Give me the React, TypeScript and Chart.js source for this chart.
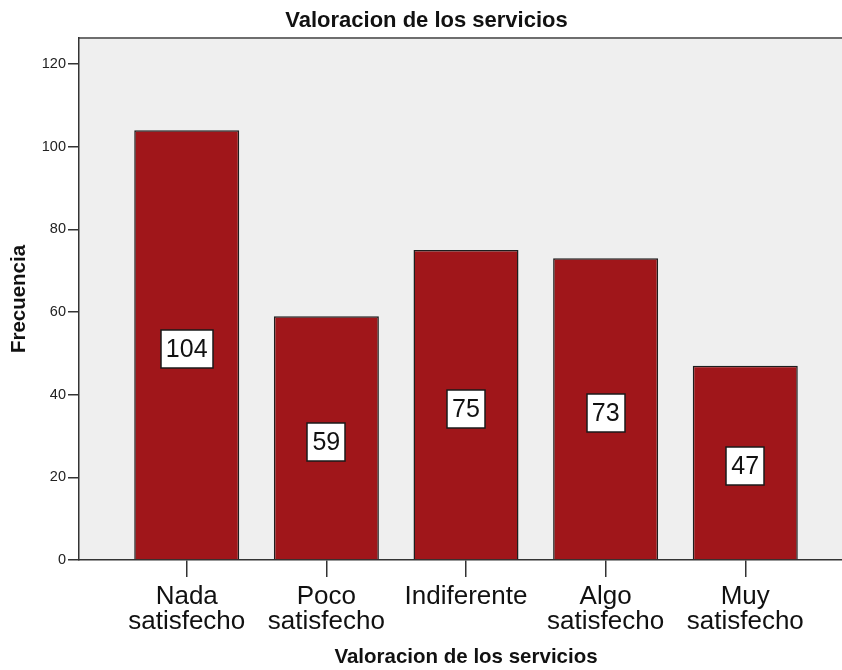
import React, { useEffect, useRef } from "react";
import { Chart, registerables } from "chart.js";

Chart.register(...registerables);

const chartTitle = "Valoracion de los servicios";
const xAxisTitle = "Valoracion de los servicios";
const yAxisTitle = "Frecuencia";
const categories: string[][] = [
  ["Nada", "satisfecho"],
  ["Poco", "satisfecho"],
  ["Indiferente"],
  ["Algo", "satisfecho"],
  ["Muy", "satisfecho"],
];
const frequencies: number[] = [104, 59, 75, 73, 47];
const yTicks: number[] = [0, 20, 40, 60, 80, 100, 120];

const FONT = "'Liberation Sans', Arial, sans-serif";

const plotBg = {
  id: "plotBg",
  beforeDraw(chart: any) {
    const { ctx, chartArea } = chart;
    ctx.save();
    ctx.fillStyle = "#efefef";
    ctx.fillRect(chartArea.left, chartArea.top, chartArea.right - chartArea.left, chartArea.bottom - chartArea.top);
    ctx.strokeStyle = "#6e6e6e";
    ctx.lineWidth = 2;
    ctx.beginPath();
    ctx.moveTo(chartArea.left, chartArea.top);
    ctx.lineTo(chartArea.right + 5, chartArea.top);
    ctx.stroke();
    ctx.restore();
  },
};

const valueBoxes = {
  id: "valueBoxes",
  afterDatasetsDraw(chart: any) {
    const { ctx } = chart;
    const meta = chart.getDatasetMeta(0);
    ctx.save();
    ctx.font = `25px ${FONT}`;
    ctx.textAlign = "center";
    ctx.textBaseline = "middle";
    meta.data.forEach((bar: any, i: number) => {
      const text = String(frequencies[i]);
      const w = ctx.measureText(text).width + 10;
      const h = 38;
      const cx = bar.x;
      const cy = (bar.y + bar.base) / 2 + 4;
      ctx.fillStyle = "#ffffff";
      ctx.fillRect(Math.round(cx - w / 2), Math.round(cy - h / 2), Math.round(w), h);
      ctx.strokeStyle = "#1a1a1a";
      ctx.lineWidth = 1.5;
      ctx.strokeRect(Math.round(cx - w / 2), Math.round(cy - h / 2), Math.round(w), h);
      ctx.fillStyle = "#111111";
      ctx.fillText(text, cx, cy + 1);
    });
    ctx.restore();
  },
};

export default function App() {
  const ref = useRef<HTMLCanvasElement | null>(null);

  useEffect(() => {
    if (!ref.current) return;
    const chart = new Chart(ref.current, {
      type: "bar",
      data: {
        datasets: [
          {
            data: frequencies.map((v, i) => ({ x: i, y: v })),
            backgroundColor: "#a0161a",
            borderColor: "#1e1e1e",
            borderWidth: 1.5,
            barPercentage: 0.752,
            categoryPercentage: 1,
          },
        ],
      },
      options: {
        responsive: false,
        animation: false,
        layout: { padding: { left: 0, right: 3, top: 0, bottom: 0 } },
        plugins: {
          legend: { display: false },
          tooltip: { enabled: false },
          title: {
            display: true,
            text: chartTitle,
            color: "#111",
            font: { family: FONT, size: 22, weight: "bold", lineHeight: 1.2 },
            padding: { top: 8, bottom: 3.6 },
          },
        },
        scales: {
          x: {
            type: "linear",
            offset: false,
            min: -0.7715,
            max: 4.7715,
            afterBuildTicks: (scale: any) => {
              scale.ticks = categories.map((_, i) => ({ value: i }));
            },
            afterFit: (scale: any) => {
              scale.height = 110;
            },
            ticks: {
              includeBounds: false,
              autoSkip: false,
              maxRotation: 0,
              color: "#111",
              padding: 7,
              font: { family: FONT, size: 26, lineHeight: "25px" },
              callback: (v: any) => categories[Number(v)] ?? "",
            },
            grid: { offset: false, drawOnChartArea: false, drawTicks: true, tickLength: 17, color: "#333", lineWidth: 1.5 },
            border: { display: true, color: "#333", width: 1.5 },
            title: {
              display: true,
              text: xAxisTitle,
              color: "#111",
              font: { family: FONT, size: 20.5, weight: "bold", lineHeight: 1.2 },
              padding: { top: 0, bottom: 0 },
            },
          },
          y: {
            min: 0,
            max: 126.3,
            afterBuildTicks: (scale: any) => {
              scale.ticks = yTicks.map((v) => ({ value: v }));
            },
            afterFit: (scale: any) => {
              scale.width = 79;
            },
            ticks: {
              color: "#222",
              padding: 2,
              font: { family: FONT, size: 14.5 },
            },
            grid: { drawOnChartArea: false, drawTicks: true, tickLength: 11, color: "#333", lineWidth: 1.5 },
            border: { display: true, color: "#333", width: 1.5 },
            title: {
              display: true,
              text: yAxisTitle,
              color: "#111",
              font: { family: FONT, size: 20.5, weight: "bold", lineHeight: 1.2 },
              padding: { top: 6.7, bottom: 0 },
            },
          },
        },
      },
      plugins: [plotBg, valueBoxes],
    } as any);
    return () => chart.destroy();
  }, []);

  return (
    <div
      style={{
        position: "fixed",
        left: 0,
        top: 0,
        width: 842,
        height: 670,
        overflow: "hidden",
        background: "#ffffff",
      }}
    >
      <canvas ref={ref} width={856} height={670} style={{ width: 856, height: 670, display: "block" }} />
    </div>
  );
}
